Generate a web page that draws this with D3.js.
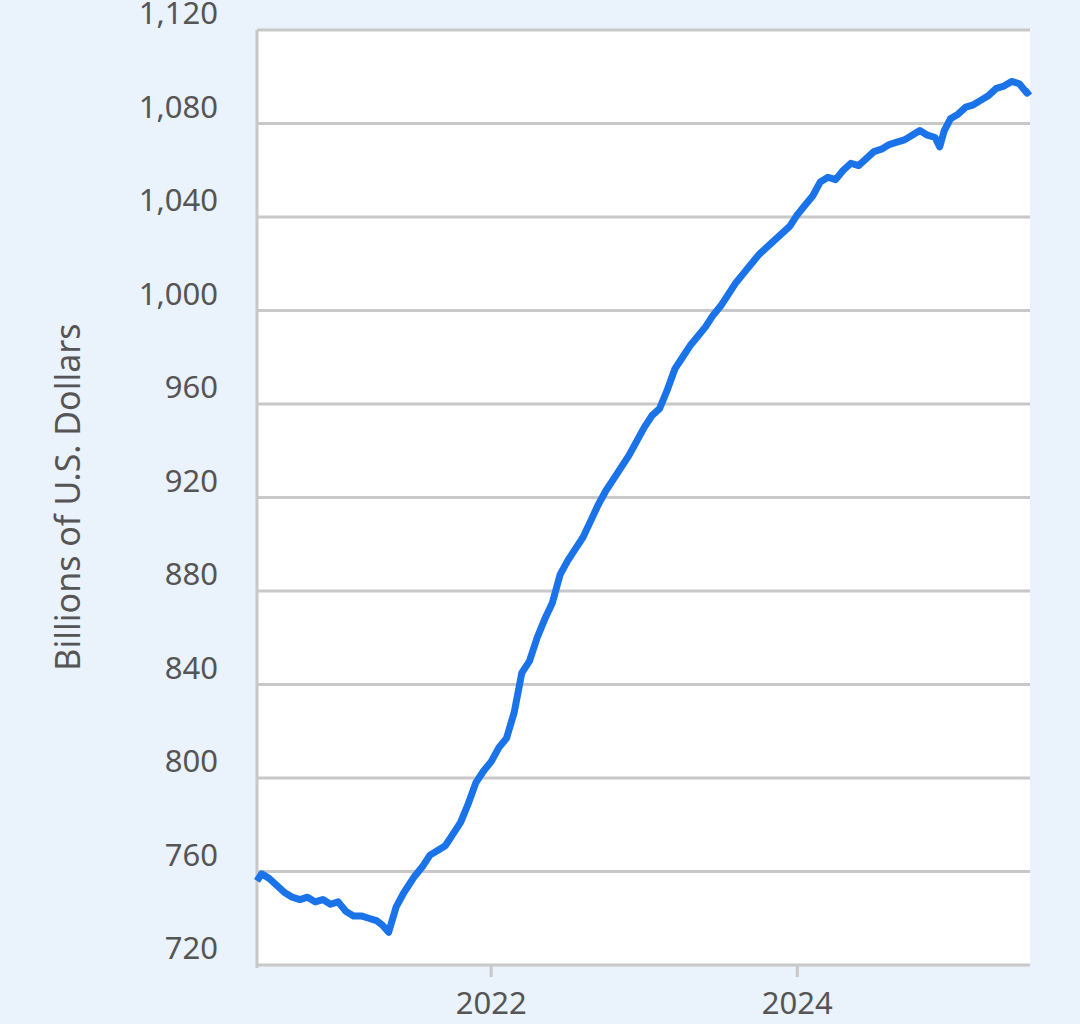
<!DOCTYPE html>
<html><head><meta charset="utf-8">
<script src="https://cdn.jsdelivr.net/npm/d3@7"></script>
<style>body{margin:0;background:#eaf2fb;}svg{display:block;font-family:"Noto Sans",sans-serif;}</style>
</head><body><svg id="c" width="1080" height="1024"></svg>
<script>
const dates = [2020.47,2020.5,2020.55,2020.6,2020.65,2020.7,2020.75,2020.8,2020.85,2020.9,2020.95,2021.0,2021.05,2021.1,2021.15,2021.2,2021.25,2021.29,2021.33,2021.38,2021.43,2021.5,2021.55,2021.6,2021.65,2021.7,2021.75,2021.8,2021.85,2021.9,2021.95,2022.0,2022.05,2022.1,2022.15,2022.2,2022.25,2022.3,2022.35,2022.4,2022.45,2022.5,2022.55,2022.6,2022.65,2022.7,2022.75,2022.8,2022.85,2022.9,2022.95,2023.0,2023.05,2023.1,2023.15,2023.2,2023.25,2023.3,2023.35,2023.4,2023.45,2023.5,2023.55,2023.6,2023.65,2023.7,2023.75,2023.8,2023.85,2023.9,2023.95,2024.0,2024.05,2024.1,2024.15,2024.2,2024.25,2024.3,2024.35,2024.4,2024.45,2024.5,2024.55,2024.6,2024.65,2024.7,2024.75,2024.8,2024.85,2024.9,2024.93,2024.96,2025.0,2025.05,2025.1,2025.15,2025.2,2025.25,2025.3,2025.35,2025.4,2025.45,2025.5,2025.52];
const values = [756,759,757,754,751,749,748,749,747,748,746,747,743,741,741,740,739,737,734,745,751,758,762,767,769,771,776,781,789,798,803,807,813,817,828,845,850,860,868,875,887,893,898,903,910,917,923,928,933,938,944,950,955,958,966,975,980,985,989,993,998,1002,1007,1012,1016,1020,1024,1027,1030,1033,1036,1041,1045,1049,1055,1057,1056,1060,1063,1062,1065,1068,1069,1071,1072,1073,1075,1077,1075,1074,1070,1077,1082,1084,1087,1088,1090,1092,1095,1096,1098,1097,1093,1094];
const yTicks = [720,760,800,840,880,920,960,1000,1040,1080,1120];
const xTicks = [2022,2024];

const svg = d3.select("#c");
const L=257,R=1030,T=30,B=965;
const x = d3.scaleLinear().domain([2020.47,2025.52]).range([L,R]);
const y = d3.scaleLinear().domain([720,1120]).range([B,T]);
svg.append("rect").attr("x",L).attr("y",T).attr("width",R-L).attr("height",B-T).attr("fill","#fff");
const g=svg.append("g");
yTicks.forEach(t=>{
  if(t>720) g.append("line").attr("x1",L).attr("x2",R).attr("y1",y(t)).attr("y2",y(t)).attr("stroke","#c8c8c8").attr("stroke-width",3);
  g.append("text").attr("x",218).attr("y",y(t)-17).attr("dy","0.36em").attr("text-anchor","end").attr("font-size",31).attr("fill","#555").text(d3.format(",")(t));
});
g.append("line").attr("x1",L).attr("x2",L).attr("y1",T).attr("y2",B+3).attr("stroke","#c8c8c8").attr("stroke-width",3);
g.append("line").attr("x1",L).attr("x2",R).attr("y1",B).attr("y2",B).attr("stroke","#c8c8c8").attr("stroke-width",3);
xTicks.forEach(t=>{
  g.append("line").attr("x1",x(t)).attr("x2",x(t)).attr("y1",B).attr("y2",B+12).attr("stroke","#c8c8c8").attr("stroke-width",3);
  g.append("text").attr("x",x(t)).attr("y",1014).attr("text-anchor","middle").attr("font-size",31).attr("fill","#555").text(t);
});
svg.append("text").attr("transform","translate(80,497) rotate(-90)").attr("text-anchor","middle").attr("font-size",34).attr("fill","#555").text("Billions of U.S. Dollars");
const line=d3.line().x((d,i)=>x(dates[i])).y(d=>y(d));
svg.append("path").datum(values).attr("d",line).attr("fill","none").attr("stroke","#1a73e8").attr("stroke-width",7).attr("stroke-linejoin","round");
</script></body></html>
